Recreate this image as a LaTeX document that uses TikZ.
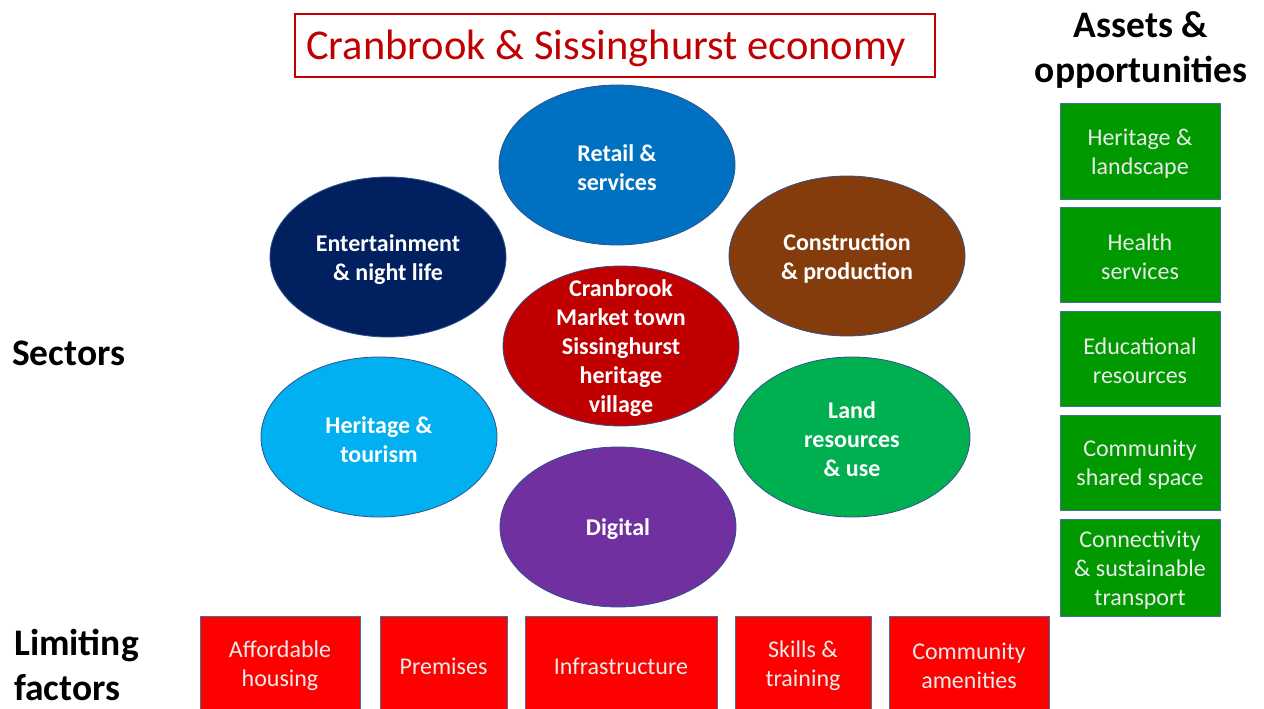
\documentclass[tikz,border=0pt]{standalone}
\usepackage{fontspec}
\setmainfont{Carlito}
\usetikzlibrary{shapes.geometric}
\definecolor{edgeblue}{HTML}{2F528F}
\definecolor{boxedge}{HTML}{41719C}
\definecolor{titlered}{HTML}{C00000}
\definecolor{cRetail}{HTML}{0070C0}
\definecolor{cEnt}{HTML}{002060}
\definecolor{cCons}{HTML}{843C0C}
\definecolor{cCentral}{HTML}{C00000}
\definecolor{cHer}{HTML}{00B0F0}
\definecolor{cLand}{HTML}{00B050}
\definecolor{cDig}{HTML}{7030A0}
\definecolor{cAsset}{HTML}{009900}
\definecolor{cLimit}{HTML}{FF0000}
\tikzset{
  sectortext/.style={text=white, font=\fontsize{24}{29}\selectfont\bfseries, align=center, inner sep=0pt},
  sector/.style={ellipse, draw=edgeblue, line width=0.8pt, minimum width=236, minimum height=160, inner sep=0pt,
    label={[sectortext, yshift=-2.5pt]center:#1}},
  boxtext/.style={text=white!92!black, font=\fontsize{24}{29}\selectfont, align=center, inner sep=0pt},
  asset/.style={rectangle, draw=boxedge, line width=1pt, fill=cAsset, minimum width=160, inner sep=0pt,
    label={[boxtext, yshift=-2.5pt]center:#1}},
  limit/.style={rectangle, draw=boxedge, line width=1pt, fill=cLimit, inner sep=0pt, minimum height=100,
    label={[boxtext]center:#1}},
  heading/.style={font=\fontsize{37.5}{45}\selectfont\bfseries, align=left, inner sep=0pt}
}
\begin{document}
\begin{tikzpicture}[x=1pt,y=-1pt]
\useasboundingbox (0,0) rectangle (1264,709);
% title
\node[draw=titlered, line width=1.2pt, minimum width=640, minimum height=63, inner sep=0pt,
  label={[text=titlered, font=\fontsize{42.5}{48}\selectfont, inner sep=0pt, xshift=-9pt, yshift=-3pt]center:Cranbrook \& Sissinghurst economy}] (title) at (615,45.5) {};
% sectors
\node[sector={Retail \&\\services}, fill=cRetail] (retail) at (617,165) {};
\node[sector={Entertainment\\\& night life}, fill=cEnt] (ent) at (388,257) {};
\node[sector={Construction\\\& production}, fill=cCons] (cons) at (847,256) {};
\node[sector={Cranbrook\\Market town\\Sissinghurst\\heritage\\village}, fill=cCentral] (central) at (621,346) {};
\node[sector={Heritage \&\\tourism}, fill=cHer] (her) at (379,437) {};
\node[sector={Land\\resources\\\& use}, fill=cLand] (land) at (852,437) {};
\node[sector={Digital}, fill=cDig] (dig) at (618,527) {};
% headings
\node[heading, anchor=west] (sectors) at (12,353) {Sectors};
\node[heading, align=center] (assets) at (1141,50) {Assets \&\\opportunities};
\node[heading, anchor=west] (limiting) at (14,665) {Limiting\\factors};
% assets
\node[asset={Heritage \&\\landscape}, minimum height=96] (a1) at (1140,151) {};
\node[asset={Health\\services}, minimum height=95] (a2) at (1140,254.5) {};
\node[asset={Educational\\resources}, minimum height=95] (a3) at (1140,358.5) {};
\node[asset={Community\\shared space}, minimum height=95] (a4) at (1140,462.5) {};
\node[asset={Connectivity\\\& sustainable\\transport}, minimum height=97] (a5) at (1140,567.5) {};
% limiting factors
\node[limit={Affordable\\housing}, minimum width=160] (l1) at (280,666) {};
\node[limit={Premises}, minimum width=127] (l2) at (443.5,666) {};
\node[limit={Infrastructure}, minimum width=192] (l3) at (621,666) {};
\node[limit={Skills \&\\training}, minimum width=136] (l4) at (803,666) {};
\node[limit={Community\\amenities}, minimum width=160] (l5) at (969,666) {};
\end{tikzpicture}
\end{document}
